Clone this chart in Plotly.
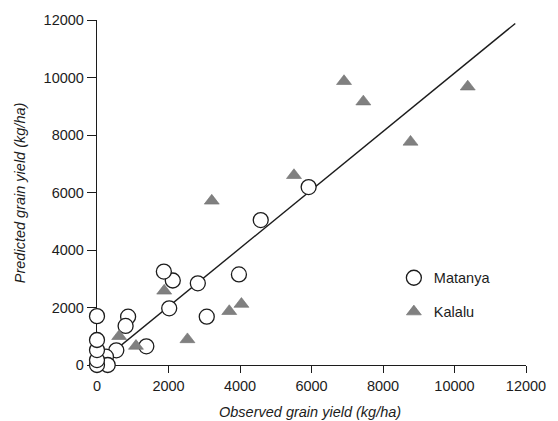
import plotly.graph_objects as go

# Observed vs predicted grain yield (kg/ha) for two sites
matanya_obs = [5920, 4580, 3970, 3070, 2820, 2120, 1870, 2020, 1380, 870, 800,
               540, 250, 300, 0, 0, 0, 0, 0]
matanya_pred = [6190, 5040, 3150, 1680, 2840, 2940, 3250, 1970, 650, 1680, 1360,
                510, 290, 0, 0, 170, 520, 870, 1700]

kalalu_obs = [10370, 6910, 7450, 8770, 5510, 3210, 1880, 4040, 3700, 2530, 620, 1090]
kalalu_pred = [9680, 9870, 9160, 7760, 6600, 5710, 2580, 2120, 1870, 890, 1000, 660]

# Fitted line through the pooled data
fit_x = [0, 11700]
fit_y = [0, 11880]

tick_vals = [0, 2000, 4000, 6000, 8000, 10000, 12000]
tick_text = ["0", "2000", "4000", "6000", "8000", "10000", "12000"]

FONT = "Liberation Sans, Arial, Helvetica, sans-serif"
INK = "#1c1c1c"

fig = go.Figure()

fig.add_trace(go.Scatter(
    x=fit_x, y=fit_y, mode="lines",
    line=dict(color=INK, width=1.4),
    showlegend=False, hoverinfo="skip", cliponaxis=False,
))

fig.add_trace(go.Scatter(
    x=matanya_obs, y=matanya_pred, mode="markers", name="Matanya",
    legendgroup="m",
    marker=dict(symbol="circle", size=15, color="white",
                line=dict(color=INK, width=1.3)),
    cliponaxis=False,
))

fig.add_trace(go.Scatter(
    x=kalalu_obs, y=kalalu_pred, mode="markers", name="Kalalu",
    legendgroup="k",
    marker=dict(symbol="triangle-up", size=13, color="#808080",
                line=dict(color="#707070", width=0.6)),
    cliponaxis=False,
))

axis_common = dict(
    range=[0, 12000], tickvals=tick_vals, ticktext=tick_text,
    showgrid=False, zeroline=False,
    showline=True, linecolor=INK, linewidth=1.3,
    ticks="outside", tickwidth=1.3, tickcolor=INK,
    tickfont=dict(family=FONT, size=14.5, color=INK),
    layer="below traces",
)

fig.update_xaxes(**axis_common, ticklen=7)
fig.update_yaxes(**axis_common, ticklen=9)

fig.update_layout(
    width=558, height=421,
    margin=dict(l=97, r=31.6, t=14, b=56),
    paper_bgcolor="white", plot_bgcolor="white",
    font=dict(family=FONT, size=14.5, color=INK),
    legend=dict(
        x=0.692, y=0.299, xanchor="left", yanchor="top",
        bgcolor="rgba(0,0,0,0)", borderwidth=0,
        traceorder="grouped", tracegroupgap=12,
        font=dict(family=FONT, size=14.5, color=INK),
    ),
    annotations=[
        dict(text="<i>Observed grain yield (kg/ha)</i>", xref="paper", yref="paper",
             x=0.4965, y=-0.136, xanchor="center", yanchor="middle",
             showarrow=False, font=dict(family=FONT, size=14.5, color=INK)),
        dict(text="<i>Predicted grain yield (kg/ha)</i>", xref="paper", yref="paper",
             x=-0.179, y=0.4986, xanchor="center", yanchor="middle", textangle=-90,
             showarrow=False, font=dict(family=FONT, size=14.5, color=INK)),
    ],
)

fig.write_html("out.html")
